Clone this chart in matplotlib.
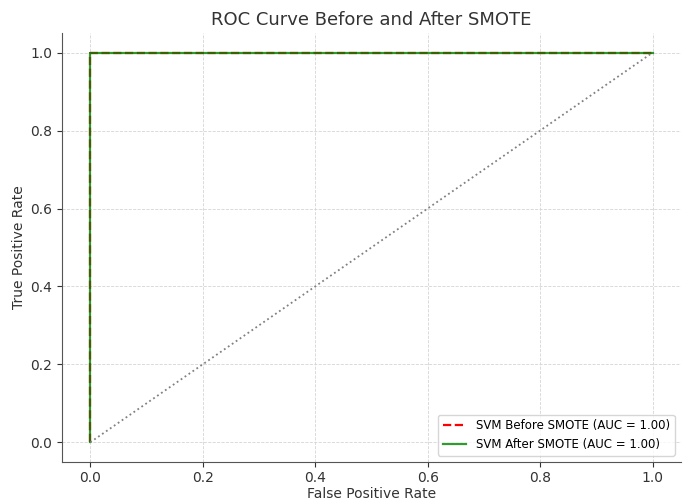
import matplotlib
matplotlib.use('Agg')
import matplotlib.pyplot as plt

fpr_before = [0.0, 0.0, 1.0]
tpr_before = [0.0, 1.0, 1.0]
fpr_after = [0.0, 0.0, 1.0]
tpr_after = [0.0, 1.0, 1.0]
auc_before = 1.00
auc_after = 1.00

fig, ax = plt.subplots(figsize=(6.91, 5.03), dpi=100)
fig.subplots_adjust(left=0.09, right=0.985, bottom=0.082, top=0.934)

ax.plot(fpr_before, tpr_before, color='red', linestyle='--', linewidth=1.6,
        label=f'SVM Before SMOTE (AUC = {auc_before:.2f})')
ax.plot(fpr_after, tpr_after, color='green', linestyle='-', linewidth=1.6, alpha=0.8,
        label=f'SVM After SMOTE (AUC = {auc_after:.2f})')
ax.plot([0, 1], [0, 1], color='gray', linestyle=':', linewidth=1.3)

ax.set_title('ROC Curve Before and After SMOTE', fontsize=13, color='#333333')
ax.set_xlabel('False Positive Rate', color='#333333', labelpad=1)
ax.set_ylabel('True Positive Rate', color='#333333', labelpad=3)
ax.grid(True, linestyle='--', linewidth=0.6, color='#d5d5d5')
ax.spines['top'].set_visible(False)
ax.spines['right'].set_visible(False)
ax.spines['left'].set_color('#555555')
ax.spines['bottom'].set_color('#555555')
ax.tick_params(colors='#333333')
ax.legend(loc='lower right', fontsize=8.5)

fig.savefig('out.png')
